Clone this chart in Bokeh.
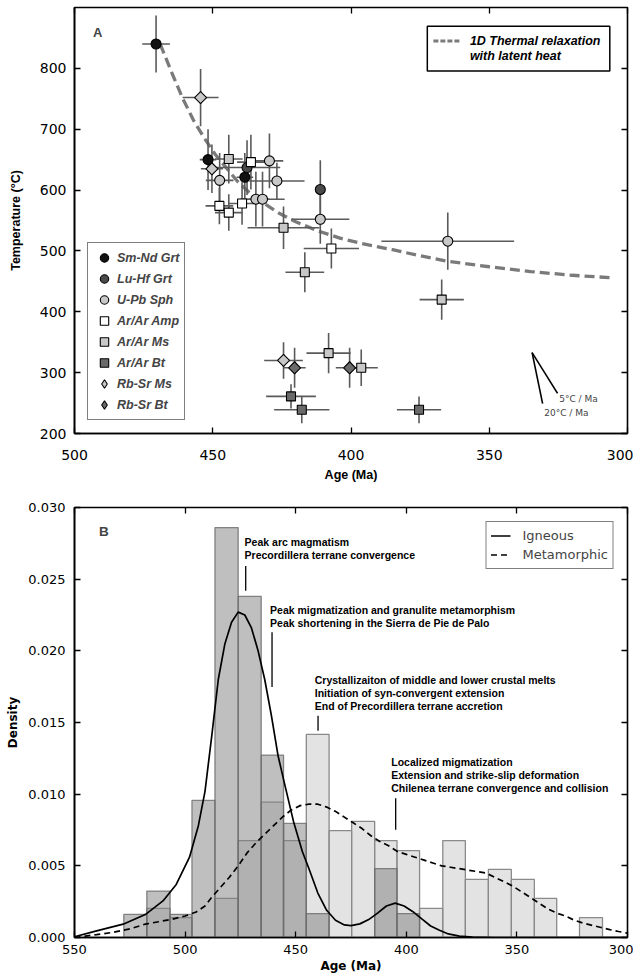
from bokeh.plotting import figure
from bokeh.models import (Legend, LegendItem, LinearAxis, FixedTicker,
                          PrintfTickFormatter, Label, Range1d, CustomJSTickFormatter)
from bokeh.layouts import column
from bokeh.embed import file_html
from bokeh.resources import INLINE

# ---------------- Panel A data (age Ma, temperature C, errors) ----------------
smnd_age = [470.5, 451.7, 438.4]
smnd_temp = [840, 650, 621]
smnd_dage = [5, 3, 3]
smnd_dtemp = [47, 50, 40]

luhf_age = [437.6, 411.1]
luhf_temp = [637, 601]
luhf_dage = [12, 1]
luhf_dtemp = [45, 48]

upb_age = [447.5, 429.5, 426.8, 434.4, 432.0, 411.1, 365.0]
upb_temp = [616, 648, 615, 585, 585, 552, 516]
upb_dage = [5, 5, 10, 5, 8, 10.5, 24]
upb_dtemp = [45, 45, 30, 45, 45, 40, 47]

amp_age = [436.2, 447.6, 444.2, 439.4, 407.1]
amp_temp = [646, 574, 563, 578, 504]
amp_dage = [5, 5, 5, 5, 10]
amp_dtemp = [45, 30, 30, 35, 33]

ms_age = [444.2, 424.4, 416.7, 367.2, 408.1, 396.3]
ms_temp = [651, 538, 465, 420, 332, 308]
ms_dage = [5, 13, 7, 8, 8, 6]
ms_dtemp = [40, 35, 33, 33, 33, 30]

bt_age = [421.7, 417.8, 375.4]
bt_temp = [261, 239, 239]
bt_dage = [9, 10, 8]
bt_dtemp = [20, 22, 22]

rbms_age = [454.4, 450.3, 424.4]
rbms_temp = [752, 635, 320]
rbms_dage = [6.5, 4, 7]
rbms_dtemp = [47, 40, 30]

rbbt_age = [420.4, 400.5]
rbbt_temp = [308, 308]
rbbt_dage = [4, 5]
rbbt_dtemp = [33, 33]

# 1D thermal relaxation model curve
model_age = [469, 465, 461, 457, 453, 449, 445, 441, 437, 432, 426, 420, 412,
             404, 396, 385, 375, 365, 350, 335, 320, 306]
model_temp = [840, 795, 752, 715, 685, 658, 636, 614, 597, 580, 562, 548, 533,
              521, 512, 502, 492, 483, 474, 466, 460, 456]

# ---------------- Panel B data ----------------
bin_edges = [527.7, 517.3, 506.8, 496.9, 486.5, 476.0, 465.6, 455.5, 445.2,
             434.9, 424.7, 414.3, 404.2, 394.0, 383.5, 373.3, 362.9, 352.5,
             342.1, 332.0, 321.7, 311.3]
igneous_density = [0.00162, 0.00324, 0.00162, 0.00956, 0.0286, 0.0238, 0.01273,
                   0.00796, 0.00167, 0, 0, 0.00481, 0.00167, 0, 0, 0, 0, 0, 0, 0, 0]
metamorphic_density = [0, 0.00203, 0.00139, 0, 0.00273, 0.00676, 0.00944, 0.00676,
                       0.01417, 0.00745, 0.0081, 0.00676, 0.00606, 0.00203, 0.00676,
                       0.00405, 0.00475, 0.00405, 0.00273, 0, 0.00139]

ig_kde_age = [550, 540, 528, 518, 510, 504, 498, 494, 491, 488, 485, 482, 479, 476,
              473, 470, 467, 464, 461, 458, 455, 451, 447, 444, 440, 436, 432, 428,
              425, 421, 417, 413, 409, 405, 401, 397, 393, 389, 385, 381, 376, 370,
              360, 300]
ig_kde = [0.00005, 0.00046, 0.00093, 0.0016, 0.00255, 0.0037, 0.0056, 0.0078,
          0.0102, 0.014, 0.018, 0.0205, 0.022, 0.0227, 0.0225, 0.0216, 0.02, 0.018,
          0.0155, 0.0127, 0.0107, 0.0081, 0.006, 0.0048, 0.0031, 0.0019, 0.0012,
          0.00088, 0.00083, 0.00095, 0.00125, 0.0017, 0.0022, 0.0024, 0.0022,
          0.0018, 0.0013, 0.0008, 0.0005, 0.00025, 0.0001, 0.00002, 0.0, 0.0]

met_kde_age = [550, 545, 540, 533, 525, 518, 512, 506, 500, 495, 491, 488, 484,
               480, 476, 472, 468, 464, 460, 456, 452, 448, 444, 440, 436, 432,
               428, 424, 420, 416, 412, 408, 404, 400, 396, 392, 388, 384, 380,
               376, 372, 368, 364, 360, 356, 352, 348, 344, 340, 336, 332, 328,
               324, 320, 316, 312, 308, 304, 300]
met_kde = [0.0, 0.0001, 0.0002, 0.00035, 0.0006, 0.00093, 0.0011, 0.00127, 0.0015,
           0.00178, 0.0022, 0.0028, 0.0035, 0.0042, 0.005, 0.0059, 0.0066, 0.0072,
           0.0078, 0.0084, 0.0089, 0.0092, 0.0093, 0.0093, 0.0091, 0.0088, 0.0084,
           0.008, 0.0076, 0.0071, 0.0067, 0.0064, 0.006, 0.0058, 0.0056, 0.0054,
           0.0052, 0.005, 0.0049, 0.0048, 0.0047, 0.0046, 0.0045, 0.0042, 0.0039,
           0.0036, 0.0032, 0.0028, 0.0024, 0.002, 0.0017, 0.0015, 0.0012, 0.001,
           0.00085, 0.0007, 0.00055, 0.00042, 0.0003]

TICK_FONT = "DejaVu Sans"
LAB_FONT = "Liberation Sans"


def style_frame(p, tick_size, xticks, yticks):
    p.xgrid.visible = False
    p.ygrid.visible = False
    p.outline_line_color = "black"
    p.outline_line_width = 1.6
    bottom = p.below[0]
    left = p.left[0]
    bottom.ticker = FixedTicker(ticks=xticks)
    left.ticker = FixedTicker(ticks=yticks)
    for ax in (bottom, left):
        ax.major_tick_in = 6
        ax.major_tick_out = 0
        ax.minor_tick_line_color = None
        ax.axis_line_width = 1.6
        ax.major_tick_line_width = 1.3
        ax.major_label_text_font = TICK_FONT
        ax.major_label_text_font_size = tick_size
        ax.major_label_text_color = "black"
        ax.axis_label_text_font_style = "bold"
        ax.axis_label_text_color = "black"
    for loc in ("above", "right"):
        ax = LinearAxis(ticker=FixedTicker(ticks=xticks if loc == "above" else yticks),
                        major_tick_in=6, major_tick_out=0, major_label_standoff=0,
                        formatter=CustomJSTickFormatter(code="return ''"),
                        major_label_text_font_size="1px", minor_tick_line_color=None,
                        axis_line_color=None, major_tick_line_width=1.3)
        p.add_layout(ax, loc)
    return bottom, left


# ---------------- Panel A ----------------
p1 = figure(width=633, height=484, x_range=Range1d(500, 300), y_range=Range1d(200, 900),
            output_backend="svg", toolbar_location=None,
            min_border_left=74, min_border_right=5, min_border_top=7, min_border_bottom=51)
xa1, ya1 = style_frame(p1, "14px", [500, 450, 400, 350, 300], [200, 300, 400, 500, 600, 700, 800])
xa1.axis_label = "Age (Ma)"
ya1.axis_label = "Temperature (°C)"
for ax in (xa1, ya1):
    ax.axis_label_text_font = LAB_FONT
    ax.axis_label_text_font_size = "12.5px"
xa1.major_label_standoff = 16
xa1.axis_label_standoff = 5
ya1.major_label_standoff = 8
ya1.axis_label_standoff = 14

p1.line(model_age, model_temp, line_color="#7a7a7a", line_width=3.3, line_dash="10 5")

groups = [
    ("Sm-Nd Grt", "circle", "#111111", 10, 0, smnd_age, smnd_temp, smnd_dage, smnd_dtemp),
    ("Lu-Hf Grt", "circle", "#4a4a4a", 10, 0, luhf_age, luhf_temp, luhf_dage, luhf_dtemp),
    ("U-Pb Sph", "circle", "#c8c8c8", 10, 0, upb_age, upb_temp, upb_dage, upb_dtemp),
    ("Ar/Ar Amp", "square", "#ffffff", 9, 0, amp_age, amp_temp, amp_dage, amp_dtemp),
    ("Ar/Ar Ms", "square", "#c8c8c8", 9, 0, ms_age, ms_temp, ms_dage, ms_dtemp),
    ("Ar/Ar Bt", "square", "#6a6a6a", 9, 0, bt_age, bt_temp, bt_dage, bt_dtemp),
    ("Rb-Sr Ms", "square", "#c8c8c8", 8.5, 0.785398, rbms_age, rbms_temp, rbms_dage, rbms_dtemp),
    ("Rb-Sr Bt", "square", "#6a6a6a", 8.5, 0.785398, rbbt_age, rbbt_temp, rbbt_dage, rbbt_dtemp),
]

for g in groups:
    _, _, _, _, _, ages, temps, dages, dtemps = g
    p1.segment(x0=[a - d for a, d in zip(ages, dages)], x1=[a + d for a, d in zip(ages, dages)],
               y0=temps, y1=temps, line_color="#5a5a5a", line_width=1.6)
    p1.segment(x0=ages, x1=ages, y0=[t - d for t, d in zip(temps, dtemps)],
               y1=[t + d for t, d in zip(temps, dtemps)], line_color="#5a5a5a", line_width=1.6)

items = []
for g in groups:
    name, marker, color, size, angle, ages, temps, _, _ = g
    leg_r = None
    if angle:
        # diamond swatch for the legend, hidden beneath the rotated squares
        leg_r = p1.scatter(ages, temps, marker="diamond", size=11.5, fill_color=color,
                           line_color="black", line_width=1.1)
    r = p1.scatter(ages, temps, marker=marker, size=size, angle=angle, fill_color=color,
                   line_color="black", line_width=1.1)
    items.append(LegendItem(label=name, renderers=[leg_r if leg_r is not None else r]))

leg1 = Legend(items=items, location="bottom_left", margin=13, padding=4, spacing=0,
              glyph_width=24, glyph_height=21, label_height=21, label_standoff=1,
              label_text_font=LAB_FONT, label_text_font_style="bold italic",
              label_text_font_size="12.5px", border_line_color="black",
              border_line_width=1.5, background_fill_alpha=1.0)
p1.add_layout(leg1, "center")

# thermal model legend (drawn box)
p1.quad(left=[372.4], right=[306.4], top=[869], bottom=[795.6], fill_color="white",
        line_color="black", line_width=1.5)
p1.line([370.2, 360.1], [844.8, 844.8], line_color="#7a7a7a", line_width=3, line_dash="5 2")
for txt, yy in (("1D Thermal relaxation", 844.8), ("with latent heat", 819.7)):
    p1.add_layout(Label(x=357, y=yy, text=txt, text_font=LAB_FONT, text_font_style="bold italic",
                        text_font_size="12.5px", text_baseline="middle", text_align="left",
                        text_color="black"))

p1.add_layout(Label(x=491.6, y=859.5, text="A", text_font=LAB_FONT, text_font_style="bold",
                    text_font_size="13px", text_baseline="middle", text_align="center"))

# cooling-rate reference lines
p1.segment(x0=[334.5, 334.5], y0=[333, 333], x1=[325.3, 330.7], y1=[266, 249],
           line_color="black", line_width=1.6)
p1.add_layout(Label(x=324.7, y=256, text="5°C / Ma", text_font=TICK_FONT, text_font_size="9px",
                    text_baseline="middle", text_align="left"))
p1.add_layout(Label(x=330.1, y=233, text="20°C / Ma", text_font=TICK_FONT, text_font_size="9px",
                    text_baseline="middle", text_align="left"))

# ---------------- Panel B ----------------
p2 = figure(width=633, height=491, x_range=Range1d(550, 300), y_range=Range1d(0, 0.03),
            output_backend="svg", toolbar_location=None,
            min_border_left=70, min_border_right=6, min_border_top=23, min_border_bottom=35)
xa2, ya2 = style_frame(p2, "13px", [550, 500, 450, 400, 350, 300],
                       [0, 0.005, 0.010, 0.015, 0.020, 0.025, 0.030])
ya2.formatter = PrintfTickFormatter(format="%.3f")
xa2.axis_label = "Age (Ma)"
ya2.axis_label = "Density"
for ax in (xa2, ya2):
    ax.axis_label_text_font = TICK_FONT
    ax.axis_label_text_font_size = "12px"
xa2.major_label_standoff = 7
xa2.axis_label_standoff = 2
ya2.major_label_standoff = 9
ya2.axis_label_standoff = 5

lefts = bin_edges[:-1]
rights = bin_edges[1:]
mi = [i for i, v in enumerate(metamorphic_density) if v > 0]
p2.quad(left=[lefts[i] for i in mi], right=[rights[i] for i in mi],
        top=[metamorphic_density[i] for i in mi], bottom=0,
        fill_color="#c8c8c8", fill_alpha=0.5, line_color="#8a8a8a", line_width=1.3)
ii = [i for i, v in enumerate(igneous_density) if v > 0]
p2.quad(left=[lefts[i] for i in ii], right=[rights[i] for i in ii],
        top=[igneous_density[i] for i in ii], bottom=0,
        fill_color="#808080", fill_alpha=0.5, line_color="#6a6a6a", line_alpha=0.8, line_width=1.3)

r_ig = p2.line(ig_kde_age, ig_kde, line_color="black", line_width=1.7)
r_met = p2.line(met_kde_age, met_kde, line_color="black", line_width=1.7, line_dash="6 4")

leg2 = Legend(items=[LegendItem(label="Igneous", renderers=[r_ig]),
                     LegendItem(label="Metamorphic", renderers=[r_met])],
              location="top_right", margin=14, padding=4, spacing=0,
              glyph_width=20, glyph_height=19, label_height=19, label_standoff=12,
              label_text_font=TICK_FONT, label_text_font_size="13px",
              border_line_color="black", border_line_width=1.2)
p2.add_layout(leg2, "center")

p2.add_layout(Label(x=536.7, y=0.0283, text="B", text_font=LAB_FONT, text_font_style="bold",
                    text_font_size="13.5px", text_baseline="middle", text_align="center"))

annotations = [
    (473.1, [0.02762, 0.02669], ["Peak arc magmatism", "Precordillera terrane convergence"],
     472.6, 0.02592, 0.02419),
    (461.6, [0.02287, 0.02194], ["Peak migmatization and granulite metamorphism",
                                 "Peak shortening in the Sierra de Pie de Palo"],
     460.7, 0.0213, 0.01748),
    (441.4, [0.01794, 0.01706, 0.01613], ["Crystallizaiton of middle and lower crustal melts",
                                          "Initiation of syn-convergent extension",
                                          "End of Precordillera terrane accretion"],
     439.9, 0.01547, 0.01442),
    (406.8, [0.01227, 0.01134, 0.01042], ["Localized migmatization",
                                          "Extension and strike-slip deformation",
                                          "Chilenea terrane convergence and collision"],
     404.8, 0.00972, 0.00752),
]
for ax_, ys, lines, lx, ly0, ly1 in annotations:
    for t, yy in zip(lines, ys):
        p2.add_layout(Label(x=ax_, y=yy, text=t, text_font=LAB_FONT, text_font_style="bold",
                            text_font_size="10.5px", text_baseline="middle", text_align="left",
                            text_color="black"))
    p2.segment(x0=[lx], x1=[lx], y0=[ly0], y1=[ly1], line_color="black", line_width=1.3)

layout = column(p1, p2, spacing=0)
open("out.html", "w").write(file_html(layout, INLINE))
